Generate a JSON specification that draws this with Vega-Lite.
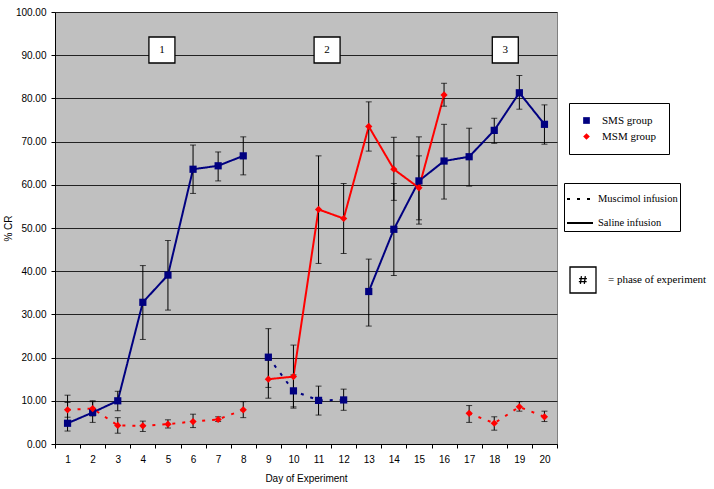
{
  "$schema": "https://vega.github.io/schema/vega-lite/v6.json",
  "autosize": {"type": "none"},
  "padding": {"left": 55, "top": 12, "right": 157, "bottom": 45},
  "width": 502,
  "height": 432,
  "background": "white",
  "config": {
    "view": {"fill": "#C0C0C0", "stroke": "#808080", "strokeWidth": 1},
    "axis": {"labelFont": "Liberation Sans", "titleFont": "Liberation Sans", "labelFontSize": 10, "titleFontSize": 10, "titleFontWeight": "normal", "labelColor": "black", "titleColor": "black", "domainColor": "black", "tickColor": "black"},
    "legend": {"labelFont": "Liberation Serif", "labelColor": "black"}
  },
  "datasets": {
    "main": [
      {"day": 1, "group": "SMS group", "value": 4.8, "lo": 3.0, "hi": 11.3, "seg": "S1", "infusion": "Saline infusion"},
      {"day": 2, "group": "SMS group", "value": 7.3, "lo": 5.0, "hi": 10.0, "seg": "S1", "infusion": "Saline infusion"},
      {"day": 3, "group": "SMS group", "value": 10.0, "lo": 7.7, "hi": 12.2, "seg": "S1", "infusion": "Saline infusion"},
      {"day": 4, "group": "SMS group", "value": 32.8, "lo": 24.2, "hi": 41.3, "seg": "S1", "infusion": "Saline infusion"},
      {"day": 5, "group": "SMS group", "value": 39.1, "lo": 31.0, "hi": 47.1, "seg": "S1", "infusion": "Saline infusion"},
      {"day": 6, "group": "SMS group", "value": 63.6, "lo": 58.0, "hi": 69.2, "seg": "S1", "infusion": "Saline infusion"},
      {"day": 7, "group": "SMS group", "value": 64.4, "lo": 60.9, "hi": 67.6, "seg": "S1", "infusion": "Saline infusion"},
      {"day": 8, "group": "SMS group", "value": 66.7, "lo": 62.3, "hi": 71.1, "seg": "S1", "infusion": "Saline infusion"},
      {"day": 9, "group": "SMS group", "value": 20.1, "lo": 13.1, "hi": 26.7, "seg": "S2", "infusion": "Muscimol infusion"},
      {"day": 10, "group": "SMS group", "value": 12.3, "lo": 8.6, "hi": 16.0, "seg": "S2", "infusion": "Muscimol infusion"},
      {"day": 11, "group": "SMS group", "value": 10.1, "lo": 6.7, "hi": 13.4, "seg": "S2", "infusion": "Muscimol infusion"},
      {"day": 12, "group": "SMS group", "value": 10.2, "lo": 7.8, "hi": 12.7, "seg": "S2", "infusion": "Muscimol infusion"},
      {"day": 13, "group": "SMS group", "value": 35.3, "lo": 27.3, "hi": 42.8, "seg": "S3", "infusion": "Saline infusion"},
      {"day": 14, "group": "SMS group", "value": 49.7, "lo": 39.0, "hi": 60.3, "seg": "S3", "infusion": "Saline infusion"},
      {"day": 15, "group": "SMS group", "value": 60.9, "lo": 50.9, "hi": 71.1, "seg": "S3", "infusion": "Saline infusion"},
      {"day": 16, "group": "SMS group", "value": 65.5, "lo": 56.7, "hi": 74.0, "seg": "S3", "infusion": "Saline infusion"},
      {"day": 17, "group": "SMS group", "value": 66.5, "lo": 59.7, "hi": 73.1, "seg": "S3", "infusion": "Saline infusion"},
      {"day": 18, "group": "SMS group", "value": 72.6, "lo": 69.6, "hi": 75.4, "seg": "S3", "infusion": "Saline infusion"},
      {"day": 19, "group": "SMS group", "value": 81.3, "lo": 77.5, "hi": 85.3, "seg": "S3", "infusion": "Saline infusion"},
      {"day": 20, "group": "SMS group", "value": 74.0, "lo": 69.4, "hi": 78.5, "seg": "S3", "infusion": "Saline infusion"},
      {"day": 1, "group": "MSM group", "value": 7.9, "lo": 6.2, "hi": 9.6, "seg": "M1", "infusion": "Muscimol infusion"},
      {"day": 2, "group": "MSM group", "value": 8.2, "lo": 6.5, "hi": 9.8, "seg": "M1", "infusion": "Muscimol infusion"},
      {"day": 3, "group": "MSM group", "value": 4.3, "lo": 2.5, "hi": 6.1, "seg": "M1", "infusion": "Muscimol infusion"},
      {"day": 4, "group": "MSM group", "value": 4.2, "lo": 2.9, "hi": 5.3, "seg": "M1", "infusion": "Muscimol infusion"},
      {"day": 5, "group": "MSM group", "value": 4.6, "lo": 3.7, "hi": 5.6, "seg": "M1", "infusion": "Muscimol infusion"},
      {"day": 6, "group": "MSM group", "value": 5.2, "lo": 3.8, "hi": 6.9, "seg": "M1", "infusion": "Muscimol infusion"},
      {"day": 7, "group": "MSM group", "value": 5.7, "lo": 5.2, "hi": 6.3, "seg": "M1", "infusion": "Muscimol infusion"},
      {"day": 8, "group": "MSM group", "value": 7.9, "lo": 6.1, "hi": 9.8, "seg": "M1", "infusion": "Muscimol infusion"},
      {"day": 9, "group": "MSM group", "value": 15.0, "lo": 10.6, "hi": 19.4, "seg": "M2", "infusion": "Saline infusion"},
      {"day": 10, "group": "MSM group", "value": 15.6, "lo": 8.3, "hi": 22.9, "seg": "M2", "infusion": "Saline infusion"},
      {"day": 11, "group": "MSM group", "value": 54.3, "lo": 41.8, "hi": 66.7, "seg": "M2", "infusion": "Saline infusion"},
      {"day": 12, "group": "MSM group", "value": 52.2, "lo": 44.1, "hi": 60.3, "seg": "M2", "infusion": "Saline infusion"},
      {"day": 13, "group": "MSM group", "value": 73.5, "lo": 67.8, "hi": 79.2, "seg": "M2", "infusion": "Saline infusion"},
      {"day": 14, "group": "MSM group", "value": 63.6, "lo": 56.4, "hi": 71.0, "seg": "M2", "infusion": "Saline infusion"},
      {"day": 15, "group": "MSM group", "value": 59.3, "lo": 51.9, "hi": 66.7, "seg": "M2", "infusion": "Saline infusion"},
      {"day": 16, "group": "MSM group", "value": 80.8, "lo": 78.2, "hi": 83.5, "seg": "M2", "infusion": "Saline infusion"},
      {"day": 17, "group": "MSM group", "value": 7.1, "lo": 5.0, "hi": 8.9, "seg": "M3", "infusion": "Muscimol infusion"},
      {"day": 18, "group": "MSM group", "value": 4.8, "lo": 3.2, "hi": 6.3, "seg": "M3", "infusion": "Muscimol infusion"},
      {"day": 19, "group": "MSM group", "value": 8.6, "lo": 7.6, "hi": 9.8, "seg": "M3", "infusion": "Muscimol infusion"},
      {"day": 20, "group": "MSM group", "value": 6.3, "lo": 5.2, "hi": 7.6, "seg": "M3", "infusion": "Muscimol infusion"}
    ],
    "phases": [
      {"pos": 4.76, "y": 91.2, "label": "1", "key": "= phase of experiment"},
      {"pos": 11.34, "y": 91.2, "label": "2", "key": "= phase of experiment"},
      {"pos": 18.44, "y": 91.2, "label": "3", "key": "= phase of experiment"}
    ]
  },
  "resolve": {"scale": {"x": "independent"}},
  "layer": [
    {
      "data": {"name": "main"},
      "encoding": {
        "x": {
          "field": "day", "type": "ordinal",
          "scale": {"type": "band", "paddingInner": 0, "paddingOuter": 0},
          "axis": {"title": "Day of Experiment", "labelAngle": 0, "tickBand": "extent", "tickSize": 4, "labelPadding": 6, "titlePadding": 9, "grid": false}
        },
        "y": {
          "field": "value", "type": "quantitative",
          "scale": {"domain": [0, 100], "nice": false},
          "axis": {"title": "% CR", "values": [0, 10, 20, 30, 40, 50, 60, 70, 80, 90, 100], "format": ".2f", "tickSize": 4, "labelPadding": 5, "titlePadding": 2, "grid": true, "gridColor": "#222222", "gridWidth": 1, "gridOpacity": 1}
        }
      },
      "layer": [
        {
          "mark": {"type": "line", "strokeWidth": 2},
          "encoding": {
            "stroke": {"field": "group", "type": "nominal", "scale": {"domain": ["MSM group", "SMS group"], "range": ["#FF0000", "#000080"]}, "legend": null},
            "strokeDash": {
              "field": "infusion", "type": "nominal",
              "scale": {"domain": ["Muscimol infusion", "Saline infusion"], "range": [[3, 7], [1, 0]]},
              "legend": {"title": null, "orient": "none", "legendX": 509, "legendY": 171, "strokeColor": "black", "fillColor": "white", "padding": 2, "symbolType": "stroke", "symbolSize": 676, "symbolStrokeColor": "black", "symbolStrokeWidth": 2, "labelFont": "Liberation Serif", "labelFontSize": 10.5, "labelOffset": 4, "rowPadding": 4}
            },
            "detail": {"field": "seg", "type": "nominal"}
          }
        },
        {
          "mark": {"type": "rule", "color": "black", "strokeWidth": 1},
          "encoding": {"y": {"field": "lo", "type": "quantitative"}, "y2": {"field": "hi"}}
        },
        {
          "mark": {"type": "tick", "color": "black", "size": 6, "thickness": 1},
          "encoding": {"y": {"field": "lo", "type": "quantitative"}}
        },
        {
          "mark": {"type": "tick", "color": "black", "size": 6, "thickness": 1},
          "encoding": {"y": {"field": "hi", "type": "quantitative"}}
        },
        {
          "mark": {"type": "point", "filled": true, "opacity": 1, "size": 52},
          "encoding": {
            "color": {"field": "group", "type": "nominal", "scale": {"domain": ["SMS group", "MSM group"], "range": ["#000080", "#FF0000"]},
              "legend": {"title": null, "orient": "none", "legendX": 514, "legendY": 91, "strokeColor": "black", "fillColor": "white", "padding": 12, "symbolSize": 45, "symbolOffset": 0, "labelFont": "Liberation Serif", "labelFontSize": 11, "labelOffset": 10, "rowPadding": 4}},
            "shape": {"field": "group", "type": "nominal", "scale": {"domain": ["SMS group", "MSM group"], "range": ["square", "diamond"]},
              "legend": {"title": null, "orient": "none", "legendX": 514, "legendY": 91, "strokeColor": "black", "fillColor": "white", "padding": 12, "symbolSize": 45, "symbolOffset": 0, "labelFont": "Liberation Serif", "labelFontSize": 11, "labelOffset": 10, "rowPadding": 4}}
          }
        }
      ]
    },
    {
      "data": {"name": "phases"},
      "encoding": {
        "x": {"field": "pos", "type": "quantitative", "scale": {"domain": [0.5, 20.5], "nice": false, "zero": false}, "axis": null},
        "y": {"field": "y", "type": "quantitative"}
      },
      "layer": [
        {
          "mark": {"type": "point", "shape": "square", "size": 676, "filled": true, "opacity": 1, "stroke": "black", "strokeWidth": 1.3},
          "encoding": {
            "fill": {"field": "key", "type": "nominal", "scale": {"range": ["white"]},
              "legend": {"title": null, "orient": "none", "legendX": 514, "legendY": 254, "padding": 0, "symbolType": "M-1,-1H1V1H-1Z M-0.12,-0.3L-0.2,0.3 M0.18,-0.3L0.1,0.3 M-0.3,-0.1H0.3 M-0.32,0.12H0.28", "symbolSize": 676, "symbolStrokeColor": "black", "symbolStrokeWidth": 1.3, "symbolFillColor": "white", "labelFont": "Liberation Serif", "labelFontSize": 11, "labelOffset": 11}}
          }
        },
        {
          "mark": {"type": "text", "font": "Liberation Serif", "fontSize": 11, "color": "black", "align": "center", "baseline": "middle"},
          "encoding": {"text": {"field": "label"}}
        }
      ]
    }
  ]
}
